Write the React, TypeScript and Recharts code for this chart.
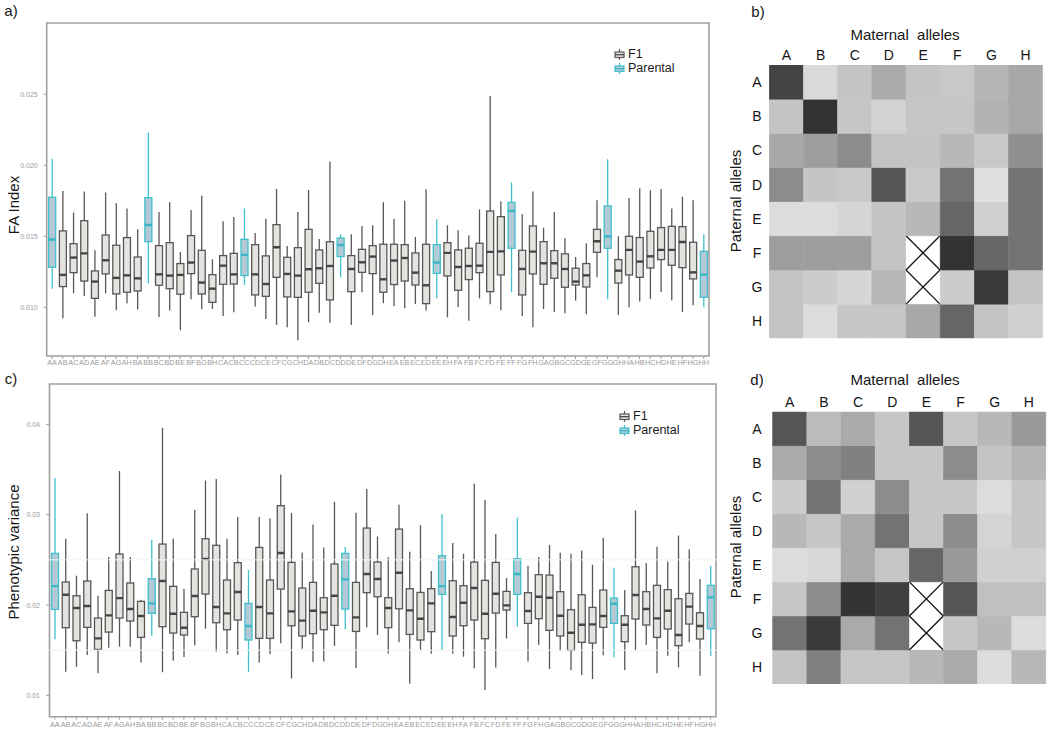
import React from 'react';
import { ComposedChart, BarChart, Bar, XAxis, YAxis, ReferenceArea, ReferenceLine, Legend } from 'recharts';

const FONT = '"Liberation Sans", Arial, Helvetica, sans-serif';

// ---------- categories ----------
const categories = [
  'AA','AB','AC','AD','AE','AF','AG','AH',
  'BA','BB','BC','BD','BE','BF','BG','BH',
  'CA','CB','CC','CD','CE','CF','CG','CH',
  'DA','DB','DC','DD','DE','DF','DG','DH',
  'EA','EB','EC','ED','EE','EH',
  'FA','FB','FC','FD','FE','FF','FG','FH',
  'GA','GB','GC','GD','GE','GF','GG','GH',
  'HA','HB','HC','HD','HE','HF','HG','HH',
];
const parentalCats = ['AA','BB','CC','DD','EE','FF','GG','HH'];

// ---------- panel a: FA Index ----------
const faHi = [
  0.02045,0.01819,0.01667,0.01815,0.01401,0.01808,0.01732,0.01695,
  0.01549,0.02230,0.01671,0.01742,0.01390,0.01685,0.01786,0.01338,
  0.01606,0.01636,0.01695,0.01523,0.01624,0.01833,0.01432,0.01671,
  0.01826,0.01481,0.02026,0.01514,0.01514,0.01573,0.01577,0.01739,
  0.01624,0.01751,0.01495,0.01831,0.01620,0.01577,
  0.01542,0.01507,0.01688,0.02488,0.01746,0.01878,0.01655,0.01815,
  0.01561,0.01671,0.01486,0.01354,0.01451,0.01754,0.02042,0.01500,
  0.01770,0.01838,0.01824,0.01833,0.01695,0.01779,0.01754,0.01514,
];
const faQ3 = [
  0.01775,0.01538,0.01448,0.01610,0.01256,0.01509,0.01437,0.01491,
  0.01354,0.01772,0.01434,0.01455,0.01308,0.01505,0.01401,0.01230,
  0.01364,0.01380,0.01479,0.01441,0.01362,0.01582,0.01352,0.01420,
  0.01549,0.01404,0.01462,0.01488,0.01364,0.01408,0.01434,0.01444,
  0.01444,0.01441,0.01383,0.01444,0.01441,0.01455,
  0.01404,0.01416,0.01451,0.01678,0.01638,0.01739,0.01401,0.01573,
  0.01462,0.01399,0.01376,0.01275,0.01308,0.01549,0.01714,0.01336,
  0.01500,0.01491,0.01535,0.01561,0.01570,0.01568,0.01458,0.01394,
];
const faMed = [
  0.01477,0.01228,0.01350,0.01380,0.01181,0.01331,0.01207,0.01225,
  0.01204,0.01580,0.01232,0.01223,0.01228,0.01315,0.01174,0.01131,
  0.01293,0.01232,0.01369,0.01232,0.01164,0.01423,0.01235,0.01223,
  0.01268,0.01275,0.01291,0.01439,0.01270,0.01317,0.01357,0.01197,
  0.01329,0.01347,0.01244,0.01155,0.01315,0.01383,
  0.01284,0.01291,0.01293,0.01390,0.01394,0.01678,0.01270,0.01392,
  0.01310,0.01310,0.01270,0.01181,0.01225,0.01465,0.01498,0.01258,
  0.01404,0.01322,0.01359,0.01404,0.01404,0.01460,0.01246,0.01230,
];
const faQ1 = [
  0.01282,0.01146,0.01244,0.01185,0.01063,0.01235,0.01094,0.01106,
  0.01115,0.01462,0.01155,0.01131,0.01092,0.01237,0.01094,0.01035,
  0.01162,0.01164,0.01223,0.01087,0.01077,0.01211,0.01073,0.01070,
  0.01106,0.01169,0.01052,0.01357,0.01110,0.01246,0.01237,0.01106,
  0.01160,0.01185,0.01157,0.01026,0.01239,0.01221,
  0.01120,0.01195,0.01244,0.01110,0.01228,0.01416,0.01087,0.01235,
  0.01162,0.01204,0.01141,0.01157,0.01143,0.01387,0.01416,0.01171,
  0.01228,0.01211,0.01277,0.01336,0.01296,0.01279,0.01200,0.01070,
];
const faLo = [
  0.01131,0.00923,0.01099,0.01080,0.00934,0.01099,0.00979,0.01028,
  0.00984,0.01169,0.00932,0.00977,0.00838,0.01056,0.00986,0.00988,
  0.00939,0.00965,0.01157,0.01005,0.00918,0.00876,0.00859,0.00768,
  0.00894,0.00962,0.00892,0.01211,0.00876,0.01106,0.00946,0.01028,
  0.01009,0.00993,0.01023,0.00977,0.01063,0.00930,
  0.01002,0.00906,0.01063,0.01021,0.00979,0.01106,0.00939,0.00859,
  0.00988,0.00967,0.00958,0.01047,0.00951,0.01211,0.01056,0.00946,
  0.01000,0.01040,0.01059,0.01108,0.01047,0.00967,0.01014,0.01000,
];
const faTicks = [0.010, 0.015, 0.020, 0.025];
const faDomain = [0.00657, 0.03002];

// ---------- panel c: Phenotypic variance ----------
const pvHi = [
  0.03406,0.02734,0.02325,0.03015,0.02103,0.02531,0.03483,0.02531,
  0.02059,0.02720,0.03963,0.02734,0.02181,0.03052,0.03380,0.03395,
  0.02734,0.02974,0.02387,0.02974,0.02959,0.03446,0.03018,0.02583,
  0.02893,0.02638,0.03144,0.02642,0.03022,0.03284,0.02760,0.02528,
  0.03111,0.02590,0.02882,0.02376,0.03004,0.02686,
  0.02568,0.03343,0.03162,0.02786,0.02299,0.02970,0.02435,0.02531,
  0.02664,0.02579,0.02568,0.02605,0.02446,0.02745,0.02413,0.02166,
  0.03048,0.02465,0.02646,0.02483,0.02771,0.02616,0.02288,0.02435,
];
const pvQ3 = [
  0.02572,0.02255,0.02103,0.02266,0.01856,0.02162,0.02565,0.02244,
  0.02041,0.02292,0.02675,0.02207,0.01919,0.02399,0.02734,0.02661,
  0.02277,0.02469,0.02018,0.02638,0.02277,0.03100,0.02472,0.02188,
  0.02251,0.02081,0.02454,0.02572,0.02251,0.02852,0.02476,0.02081,
  0.02841,0.02181,0.02140,0.02181,0.02546,0.02269,
  0.02214,0.02476,0.02273,0.02472,0.02151,0.02513,0.02137,0.02336,
  0.02332,0.02148,0.01948,0.02114,0.01974,0.02166,0.02077,0.01882,
  0.02424,0.02148,0.02218,0.02170,0.02070,0.02129,0.01915,0.02218,
];
const pvMed = [
  0.02210,0.02114,0.01967,0.01989,0.01631,0.01886,0.02077,0.01956,
  0.01878,0.02018,0.02266,0.01904,0.01749,0.02100,0.02509,0.01978,
  0.01908,0.02144,0.01768,0.01978,0.01908,0.02576,0.01930,0.01827,
  0.01937,0.01919,0.02103,0.02284,0.01863,0.02343,0.02288,0.01967,
  0.02358,0.01941,0.01849,0.02018,0.02210,0.01867,
  0.02026,0.02188,0.01904,0.02125,0.01996,0.02343,0.01934,0.02092,
  0.02081,0.01882,0.01694,0.01782,0.01786,0.01878,0.02015,0.01782,
  0.02111,0.01956,0.01852,0.01937,0.01668,0.01982,0.01768,0.02085,
];
const pvQ1 = [
  0.01952,0.01749,0.01605,0.01753,0.01509,0.01701,0.01856,0.01823,
  0.01642,0.01908,0.01760,0.01690,0.01668,0.01871,0.02122,0.01804,
  0.01727,0.01834,0.01613,0.01631,0.01631,0.02177,0.01771,0.01657,
  0.01683,0.01727,0.01775,0.01956,0.01708,0.02137,0.02092,0.01749,
  0.01959,0.01675,0.01613,0.01705,0.02118,0.01657,
  0.01771,0.01834,0.01627,0.01911,0.01945,0.02118,0.01797,0.01849,
  0.01720,0.01657,0.01498,0.01587,0.01579,0.01753,0.01797,0.01594,
  0.01845,0.01779,0.01642,0.01734,0.01550,0.01790,0.01624,0.01738,
];
const pvLo = [
  0.01620,0.01262,0.01317,0.01446,0.01244,0.01528,0.01539,0.01539,
  0.01365,0.01661,0.01255,0.01384,0.01424,0.01554,0.01738,0.01483,
  0.01465,0.01446,0.01262,0.01365,0.01458,0.01576,0.01188,0.01517,
  0.01369,0.01376,0.01546,0.01731,0.01303,0.01753,0.01668,0.01465,
  0.01587,0.01129,0.01502,0.01461,0.01494,0.01461,
  0.01428,0.01299,0.01059,0.01310,0.01631,0.01760,0.01376,0.01557,
  0.01292,0.01491,0.01277,0.01225,0.01181,0.01443,0.01421,0.01280,
  0.01498,0.01557,0.01244,0.01439,0.01310,0.01587,0.01218,0.01432,
];
const pvTicks = [0.01, 0.02, 0.03, 0.04];
const pvDomain = [0.00764, 0.04447];
const pvGrid = [0.015, 0.025];

// ---------- heatmaps (grey level 0-255, null = missing cross) ----------
const alleles = ['A','B','C','D','E','F','G','H'];
const greyB: (number | null)[][] = [
  [68, 217, 196, 170, 196, 200, 181, 168],
  [196, 51, 198, 210, 198, 198, 179, 168],
  [168, 158, 140, 196, 196, 184, 200, 143],
  [140, 196, 200, 85, 200, 115, 224, 115],
  [220, 220, 214, 196, 184, 102, 208, 115],
  [158, 158, 158, 196, null, 51, 102, 115],
  [196, 204, 214, 184, null, 204, 58, 196],
  [196, 220, 198, 198, 168, 102, 196, 208],
];
const greyD: (number | null)[][] = [
  [85, 187, 170, 198, 85, 198, 184, 154],
  [170, 140, 128, 198, 198, 140, 196, 181],
  [204, 115, 208, 140, 198, 198, 220, 198],
  [184, 198, 170, 115, 198, 140, 212, 198],
  [220, 216, 170, 198, 102, 154, 208, 208],
  [198, 140, 51, 63, null, 85, 192, 192],
  [115, 58, 170, 115, null, 198, 184, 220],
  [196, 128, 198, 198, 184, 170, 220, 184],
];

// ---------- helpers ----------
type BoxRow = { cat: string; lo: number; q1: number; med: number; q3: number; hi: number; par: boolean };

function buildRows(lo: number[], q1: number[], med: number[], q3: number[], hi: number[]): BoxRow[] {
  return categories.map((c, i) => ({
    cat: c, lo: lo[i], q1: q1[i], med: med[i], q3: q3[i], hi: hi[i], par: parentalCats.includes(c),
  }));
}

const faRows = buildRows(faLo, faQ1, faMed, faQ3, faHi);
const pvRows = buildRows(pvLo, pvQ1, pvMed, pvQ3, pvHi);

const F1_STROKE = '#5a5656';
const F1_FILL = '#e3e3e0';
const F1_MED = '#474444';
const P_STROKE = '#3fc0cc';
const P_FILL = '#b3cad6';
const P_MED = '#3ab6c4';
const FRAME = '#a29e9e';
const TICK_TEXT = '#9b9b9b';

const BoxShape = (props: any) => {
  const { x, y, width, height, payload } = props;
  if (!payload || x == null || y == null) return null;
  const top = Math.min(y, y + height);
  const bottom = Math.max(y, y + height);
  const { lo, q1, med, q3, hi, par } = payload as BoxRow;
  const span = hi - lo || 1;
  const toY = (v: number) => top + ((hi - v) / span) * (bottom - top);
  const cx = x + width / 2;
  const stroke = par ? P_STROKE : F1_STROKE;
  const fill = par ? P_FILL : F1_FILL;
  const medC = par ? P_MED : F1_MED;
  return (
    <g>
      <line x1={cx} x2={cx} y1={toY(hi)} y2={toY(q3)} stroke={stroke} strokeWidth={1.3} />
      <line x1={cx} x2={cx} y1={toY(q1)} y2={toY(lo)} stroke={stroke} strokeWidth={1.3} />
      <rect x={x} y={toY(q3)} width={width} height={toY(q1) - toY(q3)} fill={fill} stroke={stroke} strokeWidth={1.3} />
      <line x1={x} x2={x + width} y1={toY(med)} y2={toY(med)} stroke={medC} strokeWidth={2.4} />
    </g>
  );
};

const Glyph = ({ stroke, fill, med }: { stroke: string; fill: string; med: string }) => (
  <svg width={11} height={11} style={{ display: 'block' }}>
    <line x1={5.5} x2={5.5} y1={0} y2={11} stroke={stroke} strokeWidth={1.2} />
    <rect x={1} y={3} width={9} height={5.5} fill={fill} stroke={stroke} strokeWidth={1.2} />
    <line x1={1} x2={10} y1={5.7} y2={5.7} stroke={med} strokeWidth={1.3} />
  </svg>
);

const BoxLegend = () => (
  <div style={{ fontFamily: FONT, fontSize: 12.5, color: '#1c1c1c', lineHeight: '14px' }}>
    <div style={{ display: 'flex', alignItems: 'center', gap: 3 }}>
      <Glyph stroke={F1_STROKE} fill={F1_FILL} med={F1_MED} />
      <span>F1</span>
    </div>
    <div style={{ display: 'flex', alignItems: 'center', gap: 3 }}>
      <Glyph stroke={P_STROKE} fill={P_FILL} med={P_MED} />
      <span>Parental</span>
    </div>
  </div>
);

type BoxPanelProps = {
  rows: BoxRow[];
  domain: number[];
  ticks: number[];
  digits: number;
  width: number;
  height: number;
  margin: { top: number; right: number; bottom: number; left: number };
  yAxisWidth: number;
  xAxisHeight: number;
  xTickMargin: number;
  padding: { left: number; right: number };
  legendPos: { left: number; top: number };
  grid?: number[];
};

const BoxPanel = (p: BoxPanelProps) => (
  <ComposedChart width={p.width} height={p.height} data={p.rows} margin={p.margin} barCategoryGap={0}>
    <XAxis
      dataKey="cat"
      type="category"
      interval={0}
      height={p.xAxisHeight}
      padding={p.padding}
      axisLine={false}
      tickLine={{ stroke: FRAME, strokeWidth: 1 }}
      tickSize={3}
      tickMargin={p.xTickMargin}
      tick={{ fontSize: 7.3, fill: TICK_TEXT, fontFamily: FONT }}
    />
    <YAxis
      type="number"
      domain={p.domain}
      allowDataOverflow
      ticks={p.ticks}
      interval={0}
      width={p.yAxisWidth}
      axisLine={false}
      tickLine={{ stroke: FRAME, strokeWidth: 1 }}
      tickSize={3}
      tickMargin={6}
      tickFormatter={(v: number) => v.toFixed(p.digits)}
      tick={{ fontSize: 7, fill: TICK_TEXT, fontFamily: FONT }}
    />
    {(p.grid || []).map((g) => (
      <ReferenceLine key={g} y={g} stroke="#f4f4f4" strokeWidth={1} />
    ))}
    <Bar dataKey={(d: BoxRow) => [d.lo, d.hi]} barSize={7} shape={BoxShape} isAnimationActive={false} />
    <ReferenceArea y1={p.domain[0]} y2={p.domain[1]} fill="none" stroke={FRAME} strokeWidth={1.6} ifOverflow="visible" />
    <Legend
      layout="horizontal"
      verticalAlign="middle"
      align="center"
      content={() => <BoxLegend />}
      wrapperStyle={{ left: p.legendPos.left, top: p.legendPos.top, width: 100, height: 30 }}
    />
  </ComposedChart>
);

// heatmap data: one entry per maternal allele column, value 1 per paternal row
const heatData = alleles.map((m) => {
  const o: any = { m };
  alleles.forEach((pa) => { o[pa] = 1; });
  return o;
});

const makeCellShape = (matrix: (number | null)[][], r: number) => (props: any) => {
  const { x, y, width, height, payload } = props;
  if (x == null || y == null) return null;
  const c = alleles.indexOf(payload?.m);
  const g = c >= 0 ? matrix[r][c] : null;
  const top = Math.min(y, y + height);
  const h = Math.abs(height);
  if (g == null) {
    return (
      <g>
        <rect x={x} y={top} width={width} height={h} fill="#ffffff" />
        <line x1={x} y1={top} x2={x + width} y2={top + h} stroke="#111" strokeWidth={1.3} />
        <line x1={x + width} y1={top} x2={x} y2={top + h} stroke="#111" strokeWidth={1.3} />
      </g>
    );
  }
  const col = `rgb(${g},${g},${g})`;
  return <rect x={x} y={top} width={width} height={h} fill={col} stroke={col} strokeWidth={0.6} />;
};

type HeatProps = {
  matrix: (number | null)[][];
  width: number;
  height: number;
  margin: { top: number; right: number; bottom: number; left: number };
  yAxisWidth: number;
  xAxisHeight: number;
  yTickMargin: number;
  xTickMargin: number;
};

const HeatPanel = (p: HeatProps) => (
  <BarChart width={p.width} height={p.height} data={heatData} margin={p.margin} barCategoryGap={0} barGap={0}>
    <XAxis
      dataKey="m"
      type="category"
      orientation="top"
      height={p.xAxisHeight}
      axisLine={false}
      tickLine={false}
      tickSize={0}
      tickMargin={p.xTickMargin}
      interval={0}
      tick={{ fontSize: 14, fill: '#151515', fontFamily: FONT }}
    />
    <YAxis
      type="number"
      domain={[0, 8]}
      allowDataOverflow
      ticks={[0.5, 1.5, 2.5, 3.5, 4.5, 5.5, 6.5, 7.5]}
      interval={0}
      width={p.yAxisWidth}
      axisLine={false}
      tickLine={false}
      tickSize={0}
      tickMargin={p.yTickMargin}
      tickFormatter={(v: number) => alleles[7 - Math.floor(v)]}
      tick={{ fontSize: 14, fill: '#151515', fontFamily: FONT, textAnchor: 'middle' } as any}
    />
    {alleles.slice().reverse().map((pa) => (
      <Bar
        key={pa}
        dataKey={pa}
        stackId="s"
        shape={makeCellShape(p.matrix, alleles.indexOf(pa))}
        isAnimationActive={false}
      />
    ))}
  </BarChart>
);

const abs = (left: number, top: number): React.CSSProperties => ({ position: 'absolute', left, top });

const Label = ({ x, y, text, size, rotate, color }: { x: number; y: number; text: string; size: number; rotate?: boolean; color?: string }) => (
  <div
    style={{
      position: 'absolute',
      left: x,
      top: y,
      transform: rotate ? 'translate(-50%, -50%) rotate(-90deg)' : 'translate(-50%, -50%)',
      fontFamily: FONT,
      fontSize: size,
      lineHeight: 1,
      whiteSpace: 'pre',
      color: color || '#161616',
    }}
  >
    {text}
  </div>
);

export default function App() {
  return (
    <div style={{ position: 'absolute', left: 0, top: 0, width: 1050, height: 729, background: '#ffffff', overflow: 'hidden', fontFamily: FONT }}>
      {/* panel a */}
      <div style={abs(0, 0)}>
        <BoxPanel
          rows={faRows}
          domain={faDomain}
          ticks={faTicks}
          digits={3}
          width={720}
          height={375}
          margin={{ top: 23, right: 10, bottom: 4, left: 0 }}
          yAxisWidth={46.7}
          xAxisHeight={15}
          xTickMargin={1}
          padding={{ left: 0, right: 1 }}
          legendPos={{ left: 614, top: 47 }}
        />
      </div>
      {/* panel c */}
      <div style={abs(0, 370)}>
        <BoxPanel
          rows={pvRows}
          domain={pvDomain}
          ticks={pvTicks}
          digits={2}
          width={727}
          height={359}
          margin={{ top: 14, right: 10, bottom: 0, left: 0 }}
          yAxisWidth={49}
          xAxisHeight={12.3}
          xTickMargin={2.2}
          padding={{ left: 0.5, right: 1 }}
          legendPos={{ left: 619, top: 39 }}
          grid={pvGrid}
        />
      </div>
      {/* panel b */}
      <div style={abs(720, 0)}>
        <HeatPanel
          matrix={greyB}
          width={330}
          height={370}
          margin={{ top: 0, right: 7.3, bottom: 31.7, left: 0 }}
          yAxisWidth={49.3}
          xAxisHeight={65}
          yTickMargin={12.3}
          xTickMargin={5}
        />
      </div>
      {/* panel d */}
      <div style={abs(720, 360)}>
        <HeatPanel
          matrix={greyD}
          width={330}
          height={369}
          margin={{ top: 0, right: 4, bottom: 45, left: 0 }}
          yAxisWidth={52.7}
          xAxisHeight={51.7}
          yTickMargin={15.7}
          xTickMargin={5}
        />
      </div>

      {/* panel letters and titles */}
      <Label x={11} y={10} text="a)" size={15} />
      <Label x={11} y={378} text="c)" size={15} />
      <Label x={758} y={11} text="b)" size={15} />
      <Label x={757} y={379} text="d)" size={15} />
      <Label x={13} y={205} text="FA Index" size={15} rotate />
      <Label x={13} y={552} text="Phenotypic variance" size={15} rotate />
      <Label x={905} y={34} text="Maternal  alleles" size={15} />
      <Label x={905} y={379} text="Maternal  alleles" size={15} />
      <Label x={735} y={201} text="Paternal alleles" size={15} rotate />
      <Label x={735} y={547} text="Paternal alleles" size={15} rotate />
    </div>
  );
}
